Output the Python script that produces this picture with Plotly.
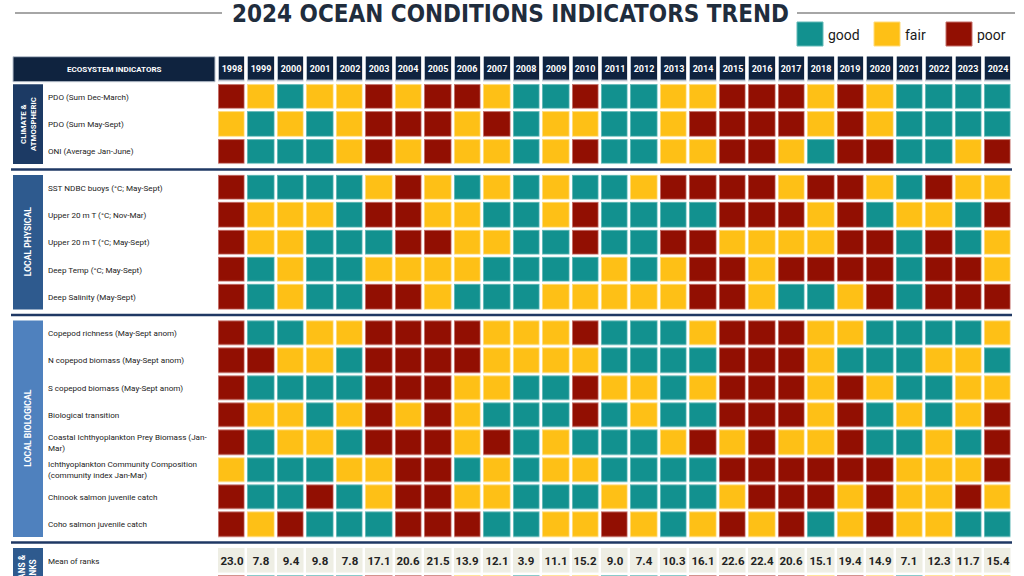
import plotly.graph_objects as go

# ---------------- DATA ----------------
years = list(range(1998, 2025))

climate_labels = ["PDO (Sum Dec-March)", "PDO (Sum May-Sept)", "ONI (Average Jan-June)"]
pdo_dec_mar = "P F G F F P F P P F G G P G G F F P P P F P F G G G G".split()
pdo_may_sep = "F G F G F P P P F P G F F G G F P P P P F P F G G G G".split()
oni_jan_jun = "P G G G F P F P F F G F P G G F F P P F G P P G G F P".split()

physical_labels = ["SST NDBC buoys (°C; May-Sept)", "Upper 20 m T (°C; Nov-Mar)",
                   "Upper 20 m T (°C; May-Sept)", "Deep Temp (°C; May-Sept)",
                   "Deep Salinity (May-Sept)"]
sst_ndbc = "P G G G G F P F G F G F G G F P P P P F P P F G P F F".split()
upper20_nov_mar = "P F F F G P P F F G G F P G G G G P P P F P G F F G P".split()
upper20_may_sep = "P F F G G G P P F F G G P G G P P F F F F P P G P G F".split()
deep_temp = "P G F G G F F F F G G G G F G F P P F P P P P G P P F".split()
deep_salinity = "P G F G G P P F G G G F F F F F P P F G G F P G P P P".split()

biological_labels = ["Copepod richness (May-Sept anom)", "N copepod biomass (May-Sept anom)",
                     "S copepod biomass (May-Sept anom)", "Biological transition",
                     "Coastal Ichthyoplankton Prey Biomass (Jan-<br>Mar)",
                     "Ichthyoplankton Community Composition<br>(community index Jan-Mar)",
                     "Chinook salmon juvenile catch", "Coho salmon juvenile catch"]
copepod_richness = "P G G F F P P P P F F F P G G G F P P P F F G G G G F".split()
n_copepod = "P P F F G P P P P F F F F G G G G P P P F G G G F F G".split()
s_copepod = "P G G G G P P P F F G G P F F G F P P P F P F G G F F".split()
bio_transition = "P F F G F P F P F G G G P G F G G P P P F P G F G F P".split()
ichthyo_prey = "P G F F G P P P F P G F G G G F P F P F F P G G F G P".split()
ichthyo_comm = "F G G G F F P P G F G F F G G G G P P P P P P F F F P".split()
chinook = "P G G P G F P P F F G G G F G G G F P P P F P F F P F".split()
coho = "P F P G G G P P P G G F F P F G F P F P G F P F F G G".split()

means_labels = ["Mean of ranks"]
mean_of_ranks = [23.0, 7.8, 9.4, 9.8, 7.8, 17.1, 20.6, 21.5, 13.9, 12.1, 3.9, 11.1, 15.2, 9.0,
                 7.4, 10.3, 16.1, 22.6, 22.4, 20.6, 15.1, 19.4, 14.9, 7.1, 12.3, 11.7, 15.4]
rank_of_mean = "P G G G G P P P F F G F F G G G P P P P F P F G F F F".split()

status_names = ["good", "fair", "poor"]
status_code = {"G": 0, "F": 1, "P": 2}

# ---------------- STYLE ----------------
TEAL, YELLOW, RED = "#12918F", "#FEC016", "#920F02"
TEAL_L, YELLOW_L, RED_L = "#63B9B7", "#FFDB7A", "#C46F69"
NAVY = "#0F233F"
W, H = 1024, 576
FONT = "Roboto, sans-serif"
TITLE_FONT = "DejaVu Sans Condensed, Roboto, sans-serif"

# pixel geometry -> axis units
col_pitch, col_c0 = 29.46, 231.7
row_pitch, row_c0 = 27.35, 96.7
gap = 0.32


def step_scale(c):
    return [[0, c[0]], [1/3, c[0]], [1/3, c[1]], [2/3, c[1]], [2/3, c[2]], [1, c[2]]]


groups = [
    ("CLIMATE &<br>ATMOSPHERIC", "#1C3A64", climate_labels, [pdo_dec_mar, pdo_may_sep, oni_jan_jun]),
    ("LOCAL PHYSICAL", "#2E5A8E", physical_labels,
     [sst_ndbc, upper20_nov_mar, upper20_may_sep, deep_temp, deep_salinity]),
    ("LOCAL BIOLOGICAL", "#4F81BE", biological_labels,
     [copepod_richness, n_copepod, s_copepod, bio_transition, ichthyo_prey, ichthyo_comm, chinook, coho]),
]

fig = go.Figure()
annotations = []
shapes = []


def px_x(p):
    return p / W


def px_y(p):
    return 1 - p / H


def add_status(z_rows, ypos):
    z = [[status_code[s] for s in r] for r in z_rows]
    for scale, g in ((step_scale([TEAL_L, YELLOW_L, RED_L]), 2.5),
                     (step_scale([TEAL, YELLOW, RED]), 4.3)):
        fig.add_trace(go.Heatmap(z=z, x=years, y=ypos, zmin=0, zmax=2, colorscale=scale,
                                 xgap=g, ygap=g - 0.1, showscale=False, hoverinfo="skip"))


def label(text, yv):
    annotations.append(dict(x=px_x(46), xref="paper", y=yv, yref="y", text=text,
                            showarrow=False, xanchor="left", yanchor="middle", align="left",
                            font=dict(family=FONT, size=8.1, color="#222222")))


def group_text(text, yv, size=8.3):
    annotations.append(dict(x=px_x(28), xref="paper", y=yv, yref="y",
                            text="<b>" + text + "</b>", textangle=-90, showarrow=False,
                            xanchor="center", yanchor="middle",
                            font=dict(family=FONT, size=size, color="white")))


pos = 0.0
sep_positions = []
for gi, (gname, gcol, labels, rows) in enumerate(groups):
    ypos = [pos + i for i in range(len(rows))]
    add_status(rows, ypos)
    for lab, yv in zip(labels, ypos):
        label(lab, yv)
    shapes.append(dict(type="rect", xref="paper", yref="y", x0=px_x(13), x1=px_x(43),
                       y0=ypos[0] - 0.457, y1=ypos[-1] + 0.457, fillcolor=gcol,
                       line=dict(width=0), layer="below"))
    group_text(gname, (ypos[0] + ypos[-1]) / 2, 7.8 if gi == 0 else 8.6)
    pos = ypos[-1] + 1 + gap
    sep_positions.append(ypos[-1] + (1 + gap) / 2)

# means & ranks block
y_mean = pos
y_rank = pos + 1
fig.add_trace(go.Heatmap(z=[[0] * len(years)], x=years, y=[y_mean], zmin=0, zmax=1,
                         colorscale=[[0, "#EEEEE4"], [1, "#EEEEE4"]], xgap=2.5, ygap=2.4,
                         text=[[f"{v:.1f}" for v in mean_of_ranks]], texttemplate="<b>%{text}</b>",
                         textfont=dict(family=FONT, size=11.5, color="#222222"),
                         showscale=False, hoverinfo="skip"))
add_status([rank_of_mean], [y_rank])
label(means_labels[0], y_mean)
shapes.append(dict(type="rect", xref="paper", yref="y", x0=px_x(13), x1=px_x(43),
                   y0=y_mean - 0.457, y1=y_rank + 0.457, fillcolor="#2E5A8E",
                   line=dict(width=0), layer="below"))
group_text("MEANS &<br>RANKS", (y_mean + y_rank) / 2 - 0.05, 8.3)

# separators
for s in sep_positions:
    shapes.append(dict(type="line", xref="paper", yref="y", x0=px_x(11), x1=px_x(1012),
                       y0=s, y1=s, line=dict(color="#1F3864", width=2.5)))

# header row
y_head = -1.005
for scale, g in (([[0, "#B9C2CE"], [1, "#B9C2CE"]], 2.5), ([[0, NAVY], [1, NAVY]], 4.0)):
    fig.add_trace(go.Heatmap(z=[[0] * len(years)], x=years, y=[y_head], zmin=0, zmax=1,
                             colorscale=scale, xgap=g, ygap=g - 0.1,
                             text=[[str(y) for y in years]], texttemplate="<b>%{text}</b>",
                             textfont=dict(family=FONT, size=9, color="white"),
                             showscale=False, hoverinfo="skip"))
shapes.append(dict(type="rect", xref="paper", yref="y", x0=px_x(13), x1=px_x(215),
                   y0=y_head - 0.457, y1=y_head + 0.457, fillcolor=NAVY,
                   line=dict(color="#B9C2CE", width=1)))
annotations.append(dict(x=px_x(114), xref="paper", y=y_head, yref="y",
                        text="<b>ECOSYSTEM INDICATORS</b>", showarrow=False,
                        xanchor="center", yanchor="middle",
                        font=dict(family=FONT, size=8, color="white")))

# title
annotations.append(dict(x=px_x(510), xref="paper", y=px_y(14), yref="paper",
                        text="<b>2024 OCEAN CONDITIONS INDICATORS TREND</b>", showarrow=False,
                        xanchor="center", yanchor="middle",
                        font=dict(family=TITLE_FONT, size=24, color="#1F2D3D")))
for x0, x1 in ((15, 222), (797, 1015)):
    shapes.append(dict(type="line", xref="paper", yref="paper", x0=px_x(x0), x1=px_x(x1),
                       y0=px_y(13), y1=px_y(13), line=dict(color="#A6A6A6", width=2)))

# legend
leg = [(797, TEAL, TEAL_L), (874, YELLOW, YELLOW_L), (946, RED, RED_L)]
for (lx, c, cl), name in zip(leg, status_names):
    shapes.append(dict(type="rect", xref="paper", yref="paper", x0=px_x(lx), x1=px_x(lx + 26),
                       y0=px_y(46), y1=px_y(22), fillcolor=c, line=dict(color=cl, width=1)))
    annotations.append(dict(x=px_x(lx + 29), xref="paper", y=px_y(35), yref="paper", text=name,
                            showarrow=False, xanchor="left", yanchor="middle",
                            font=dict(family=FONT, size=14, color="#1A1A1A")))

fig.update_layout(
    width=W, height=H, margin=dict(l=0, r=0, t=0, b=0),
    paper_bgcolor="white", plot_bgcolor="white",
    xaxis=dict(range=[1998 - col_c0 / col_pitch, 1998 + (W - col_c0) / col_pitch],
               visible=False, fixedrange=True),
    yaxis=dict(range=[(H - row_c0) / row_pitch, -row_c0 / row_pitch], visible=False,
               fixedrange=True),
    shapes=shapes, annotations=annotations, showlegend=False,
)

fig.write_html("out.html", config={"displayModeBar": False},
               post_script="document.body.style.margin='0';document.body.style.overflow='hidden';")
